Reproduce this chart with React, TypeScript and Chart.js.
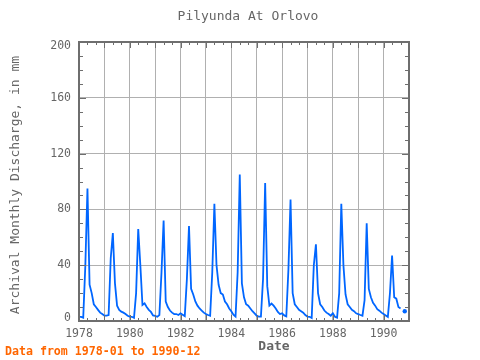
import React, { useEffect, useRef } from "react";
import { Chart, registerables } from "chart.js";

Chart.register(...registerables);

// Monthly discharge (mm), Jan..Dec
const years = [1978, 1979, 1980, 1981, 1982, 1983, 1984, 1985, 1986, 1987, 1988, 1989, 1990];
const q1978 = [3, 3, 2.4, 40, 95, 26, 20, 12, 10, 8, 6, 5];
const q1979 = [3.8, 3.8, 4.3, 45, 63, 27, 11, 8, 6.7, 6, 5, 3.8];
const q1980 = [3.1, 3, 2.2, 20, 66, 40, 11.5, 12.7, 10, 8, 6.5, 4];
const q1981 = [3.6, 3, 4.3, 35, 72, 14, 10, 7.5, 6, 5, 5, 4.3];
const q1982 = [5.5, 4.5, 3.5, 30, 68, 23, 19, 14, 11, 9, 7.5, 6];
const q1983 = [5, 4.3, 3.8, 35, 84, 40, 26, 20, 19, 14, 12, 9];
const q1984 = [7, 4.5, 3.2, 35, 105, 27, 17, 12, 11, 9, 7, 5.5];
const q1985 = [3.8, 3.1, 3.1, 30, 99, 25, 11, 12.5, 11, 9, 6.5, 5];
const q1986 = [5.5, 4, 3.3, 37, 87, 20, 12, 10, 8, 7, 6, 4.3];
const q1987 = [3.1, 3, 2.2, 40, 55, 20, 12, 10, 7.5, 6, 5, 3.8];
const q1988 = [5.5, 3, 2.4, 20, 84, 40, 19, 12, 10, 8, 7, 5.5];
const q1989 = [5, 4.3, 3.8, 15, 70, 23, 17, 13, 11, 8.5, 7.4, 6];
const q1990 = [5, 4, 3, 20, 47, 17, 16, 10, 9, null, 7, null];
const series = [q1978, q1979, q1980, q1981, q1982, q1983, q1984, q1985, q1986, q1987, q1988, q1989, q1990];

const xLabelYears = [1978, 1980, 1982, 1984, 1986, 1988, 1990];
const yTickValues = [0, 40, 80, 120, 160, 200];

const titleText = "Pilyunda At Orlovo";
const xTitle = "Date";
const yTitle = "Archival Monthly Discharge, in mm";
const footerText = "Data from 1978-01 to 1990-12";

const FONT = "'DejaVu Sans Mono', monospace";
const TEXT = "#666666";
const FRAME = "#6e6e6e";

export default function App() {
  const ref = useRef<HTMLCanvasElement>(null);

  useEffect(() => {
    document.body.style.margin = "0";
    const pts: { x: number; y: number | null }[] = [];
    years.forEach((yr, i) => {
      series[i].forEach((v, m) => pts.push({ x: yr + m / 12, y: v }));
    });

    const decor = {
      id: "decor",
      afterDraw(chart: any) {
        const { ctx, chartArea: a } = chart;
        const xs = chart.scales.x;
        const ys = chart.scales.y;
        ctx.save();
        // tick marks (inside, all four sides)
        ctx.strokeStyle = FRAME;
        ctx.lineWidth = 1;
        ctx.beginPath();
        for (let k = 0; k <= 39; k++) {
          const v = 1978 + k / 3;
          const px = Math.round(xs.getPixelForValue(v)) + 0.5;
          const len = k % 3 === 0 ? 6 : 3;
          ctx.moveTo(px, a.bottom);
          ctx.lineTo(px, a.bottom - len);
          ctx.moveTo(px, a.top);
          ctx.lineTo(px, a.top + len);
        }
        for (let v = 0; v <= 200; v += 10) {
          const py = Math.round(ys.getPixelForValue(v)) + 0.5;
          const len = v % 40 === 0 ? 7 : 4;
          ctx.moveTo(a.left, py);
          ctx.lineTo(a.left + len, py);
          ctx.moveTo(a.right, py);
          ctx.lineTo(a.right - len, py);
        }
        ctx.stroke();
        // frame
        ctx.lineWidth = 2;
        ctx.strokeStyle = FRAME;
        ctx.strokeRect(a.left, a.top, a.right - a.left, a.bottom - a.top);

        // y tick labels (kept inside the frame's vertical extent)
        ctx.fillStyle = TEXT;
        ctx.textAlign = "right";
        ctx.textBaseline = "middle";
        ctx.font = `11.5px ${FONT}`;
        yTickValues.forEach((v) => {
          let py = ys.getPixelForValue(v);
          py = Math.min(Math.max(py, a.top + 4), a.bottom - 3);
          ctx.fillText(String(v), a.left - 8, py);
        });

        // texts
        ctx.textAlign = "center";
        ctx.font = `13px ${FONT}`;
        ctx.fillText(titleText, 248, 17);
        ctx.font = `bold 13px ${FONT}`;
        ctx.fillText(xTitle, 274, 347);
        ctx.save();
        ctx.translate(16, 185);
        ctx.rotate(-Math.PI / 2);
        ctx.font = `13px ${FONT}`;
        ctx.fillText(yTitle, 0, 0);
        ctx.restore();
        ctx.fillStyle = "#ff6600";
        ctx.textAlign = "left";
        ctx.font = `bold 11.6px ${FONT}`;
        ctx.fillText(footerText, 5, 352);
        ctx.restore();
      },
    };

    const chart = new Chart(ref.current as HTMLCanvasElement, {
      type: "line",
      data: {
        datasets: [
          {
            data: pts as any,
            borderColor: "#0066ff",
            backgroundColor: "#0066ff",
            borderWidth: 1.8,
            tension: 0,
            spanGaps: false,
            pointRadius: (c: any) => {
              const d = c.dataset.data;
              const i = c.dataIndex;
              const prev = d[i - 1];
              const next = d[i + 1];
              const cur = d[i];
              if (!cur || cur.y == null) return 0;
              const pe = !prev || prev.y == null;
              const ne = !next || next.y == null;
              return pe && ne ? 2.2 : 0;
            },
            pointBorderWidth: 0,
          },
        ],
      },
      options: {
        animation: false,
        responsive: false,
        maintainAspectRatio: false,
        layout: { padding: { top: 42, right: 71, left: 0, bottom: 0 } },
        plugins: {
          legend: { display: false },
          title: { display: false },
          tooltip: { enabled: false },
        },
        scales: {
          x: {
            type: "linear",
            min: 1978,
            max: 1991,
            afterFit: (s: any) => {
              s.height = 39;
            },
            ticks: {
              stepSize: 1,
              autoSkip: false,
              maxRotation: 0,
              padding: 6,
              color: TEXT,
              font: { family: FONT, size: 11.5 },
              callback: (v: any) => (xLabelYears.includes(Number(v)) ? String(v) : ""),
            },
            grid: { color: "#b0b0b0", lineWidth: 1, drawTicks: false },
            border: { display: false },
          },
          y: {
            type: "linear",
            min: 0,
            max: 200,
            afterFit: (s: any) => {
              s.width = 79;
            },
            afterBuildTicks: (s: any) => {
              s.ticks = yTickValues.map((v) => ({ value: v }));
            },
            ticks: {
              padding: 8,
              color: "rgba(0,0,0,0)",
              font: { family: FONT, size: 11.5 },
            },
            grid: { color: "#b0b0b0", lineWidth: 1, drawTicks: false },
            border: { display: false },
          },
        },
      },
      plugins: [decor],
    });
    return () => chart.destroy();
  }, []);

  return (
    <div style={{ position: "fixed", left: 0, top: 0, width: 480, height: 360, background: "#fff" }}>
      <canvas ref={ref} width={480} height={360} style={{ width: 480, height: 360, display: "block" }} />
    </div>
  );
}
